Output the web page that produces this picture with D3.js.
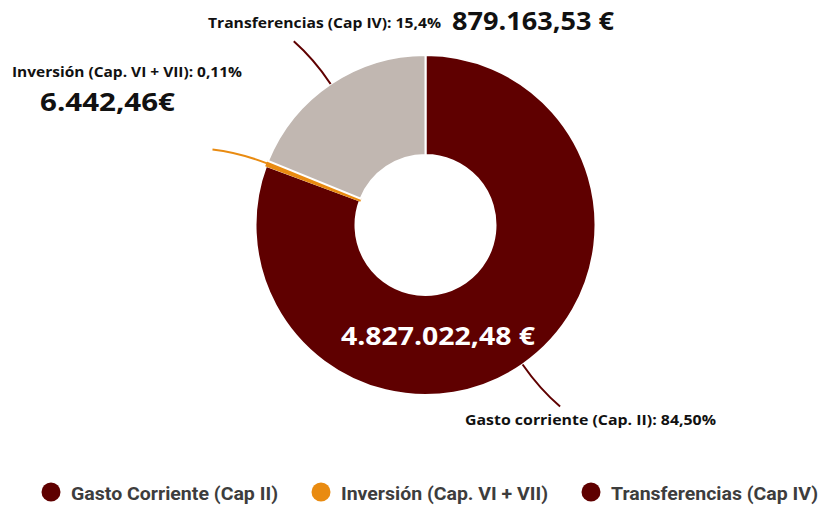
<!DOCTYPE html>
<html>
<head>
<meta charset="utf-8">
<script src="https://cdn.jsdelivr.net/npm/d3@7"></script>
<style>
  body { margin: 0; background: #fff; }
  svg { display: block; }
  .lbl { font-family: "Open Sans", sans-serif; font-weight: 700; fill: #111; }
  .legend text { font-family: Roboto, sans-serif; font-weight: 700; fill: #3d3d3d; }
</style>
</head>
<body>
<svg id="chart"></svg>
<script>
var width = 821, height = 506;
var cx = 425.5, cy = 225, outerR = 170, innerR = 70;

// slices as drawn (share of the ring)
var categories = ["Gasto corriente (Cap. II)", "Inversión (Cap. VI + VII)", "Transferencias (Cap IV)"];
var arcShare = [80.65, 0.5, 18.85];
var amounts = ["4.827.022,48 €", "6.442,46€", "879.163,53 €"];
var percents = ["84,50%", "0,11%", "15,4%"];
var sliceColors = ["#5f0000", "#e98b11", "#c1b7b1"];

var legendLabels = ["Gasto Corriente (Cap II)", "Inversión (Cap. VI + VII)", "Transferencias (Cap IV)"];
var legendColors = ["#5f0000", "#e98b11", "#5f0000"];

var svg = d3.select("#chart")
            .attr("width", width)
            .attr("height", height);

var pie = d3.pie().sort(null).value(d => d);
var arcs = pie(arcShare);

var arc = d3.arc().innerRadius(innerR).outerRadius(outerR);

var g = svg.append("g").attr("transform", "translate(" + cx + "," + cy + ")");

g.selectAll("path.slice")
  .data(arcs)
  .enter()
  .append("path")
    .attr("class", "slice")
    .attr("d", arc)
    .attr("fill", (d, i) => sliceColors[i])
    .attr("stroke", (d, i) => i == 1 ? sliceColors[i] : "#fff")
    .attr("stroke-width", (d, i) => i == 1 ? 1.5 : 2);

// leader lines: from the outer edge at mid angle, curving outwards
function leader(d) {
  var mid = (d.startAngle + d.endAngle) / 2;
  var p0 = [Math.sin(mid) * outerR, -Math.cos(mid) * outerR];
  var pc = [Math.sin(mid) * 200, -Math.cos(mid) * 200];
  var a2 = mid - 0.03;
  var p1 = [Math.sin(a2) * 226, -Math.cos(a2) * 226];
  var path = d3.path();
  path.moveTo(p0[0], p0[1]);
  path.quadraticCurveTo(pc[0], pc[1], p1[0], p1[1]);
  return path.toString();
}

g.selectAll("path.leader")
  .data(arcs)
  .enter()
  .append("path")
    .attr("class", "leader")
    .attr("d", leader)
    .attr("fill", "none")
    .attr("stroke", (d, i) => i == 1 ? "#e98b11" : "#5f0000")
    .attr("stroke-width", 2);

// labels
function label(x, y, size, w, txt, color) {
  svg.append("text").attr("class", "lbl")
     .attr("x", x).attr("y", y)
     .attr("textLength", w)
     .attr("lengthAdjust", "spacingAndGlyphs")
     .style("font-size", size + "px")
     .style("fill", color || "#111")
     .text(txt);
}

label(208, 28, 15, 233, categories[2] + ": " + percents[2]);
label(452, 30, 25, 162, amounts[2]);
label(12, 77, 15, 230, categories[1] + ": " + percents[1]);
label(40, 111, 25.5, 135, amounts[1]);
label(341, 345, 24.5, 194, amounts[0], "#fff");
label(465, 425, 15, 251, categories[0] + ": " + percents[0]);

// legend
var legend = svg.append("g").attr("class", "legend");
var item = legend.selectAll("g")
  .data(legendLabels)
  .enter()
  .append("g")
    .attr("transform", (d, i) => "translate(" + (51 + i * 270) + ",492)");

item.append("circle")
    .attr("r", 9.5)
    .attr("fill", (d, i) => legendColors[i]);

item.append("text")
    .attr("x", 20)
    .attr("y", 8)
    .attr("textLength", 207)
    .attr("lengthAdjust", "spacingAndGlyphs")
    .style("font-size", "19px")
    .text(d => d);
</script>
</body>
</html>
